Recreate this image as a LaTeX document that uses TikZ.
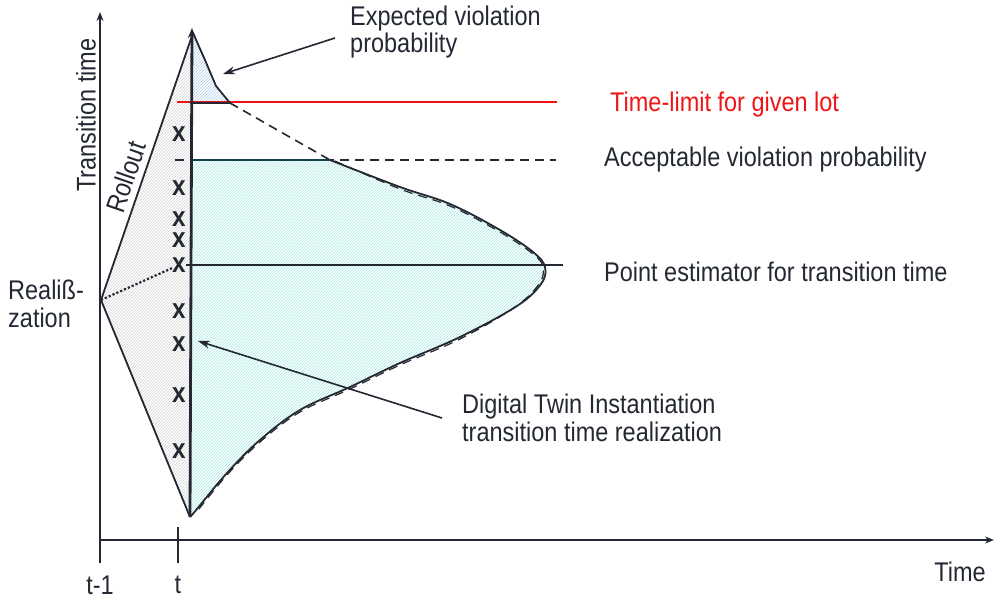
\documentclass[tikz,border=0pt]{standalone}
\usepackage{fontspec}
\setmainfont{Liberation Sans}
\newfontfamily\narrowsans[FakeStretch=0.87]{Liberation Sans}
\usetikzlibrary{arrows.meta,patterns}
\definecolor{ink}{RGB}{35,40,50}
\definecolor{hcyan}{RGB}{160,232,225}
\definecolor{hblue}{RGB}{175,205,235}
\definecolor{hgray}{RGB}{210,210,210}
\definecolor{limitred}{RGB}{240,20,20}
\begin{document}
\begin{tikzpicture}[x=1pt,y=-1pt,
  lbl/.style={font=\narrowsans\fontsize{27}{27.5}\selectfont, text=ink, inner sep=0pt},
  axisline/.style={draw=ink, line width=1.6pt},
  ptr/.style={draw=ink, line width=1.6pt, -{Stealth[length=12pt,width=8pt]}},
  tick/.style={draw=ink, line width=1.6pt},
  xmark/.style={font=\narrowsans\bfseries\fontsize{28}{28}\selectfont, text=ink, inner sep=0pt},
  curve/.style={draw=ink, line width=1.8pt},
  dashcurve/.style={draw=ink, line width=1.6pt, dash pattern=on 9pt off 6pt}]
\useasboundingbox (0,0) rectangle (994,601);
% key coordinates
\coordinate (R) at (101,300);
\coordinate (apex) at (193,33);
\coordinate (bot) at (190,517);
\coordinate (tailend) at (230,103);
\coordinate (accL) at (330,160);
% hatched areas
\fill[pattern=north east lines, pattern color=hgray] (R) -- (apex) -- (bot) -- cycle;
\fill[pattern=north east lines, pattern color=hblue] (apex) -- (205,60) -- (216,86) -- (tailend) -- (190,103) -- cycle;
\fill[pattern=north east lines, pattern color=hcyan] (190,160) --
  plot[smooth, tension=0.6] coordinates {(330,160) (400,187) (450,204) (500,230) (533,252) (545,267) (541,284) (517,306) (460,337) (400,363) (350,387) (300,410) (260,440) (227,473) (197,509) (190,517)} -- cycle;
% axes
\coordinate (O) at (100,540);
\coordinate (ytop) at (100,12);
\coordinate (xend) at (994,540);
\draw[axisline, -{Stealth[length=9pt,width=7pt]}] (O) -- (ytop);
\draw[axisline, -{Stealth[length=9pt,width=7pt]}] (O) -- (xend);
\coordinate (t1a) at (100,527); \coordinate (t1b) at (100,563);
\coordinate (ta) at (178,527); \coordinate (tb) at (178,563);
\draw[tick] (t1a) -- (t1b);
\draw[tick] (ta) -- (tb);
% rollout lines
\draw[draw=ink, line width=1.8pt] (R) -- (apex);
\draw[draw=ink, line width=1.8pt] (R) -- (bot);
% horizontal reference lines
\coordinate (redL) at (177,102); \coordinate (redR) at (557,102);
\draw[draw=limitred, line width=1.8pt] (redL) -- (redR);
\coordinate (dashL) at (175,160); \coordinate (dashR) at (556,160);
\draw[dashcurve] (dashL) -- (dashR);
% tail region edges
\draw[curve] (apex) -- (205,60) -- (216,86) -- (tailend) -- (190,103);
\draw[dashcurve] (tailend) -- (accL);
\draw[draw=ink!70!teal, line width=1.8pt] (190,160) -- (accL);
% distribution curve
\draw[curve] plot[smooth, tension=0.6] coordinates {(330,160) (400,187) (450,204) (500,230) (533,252) (545,267) (541,284) (517,306) (460,337) (400,363) (350,387) (300,410) (260,440) (227,473) (197,509) (190,517)};
\draw[dashcurve, line width=1.2pt] plot[smooth, tension=0.6] coordinates {(335,161) (400,189) (450,206) (500,232) (533,254) (543,267) (539,284) (515,307) (460,339) (400,365) (350,389) (300,412) (260,442) (227,475) (199,509)};
% vertical line at t
\draw[draw=ink, line width=2.8pt, -{Stealth[length=10pt,width=8pt]}] (bot) -- (192,28);
% x marks
\foreach \yy/\nm in {134/x1,188/x2,219/x3,240/x4,265/x5,311/x6,344/x7,395/x8,451/x9}
  \node[xmark] (\nm) at (179,\yy) {x};
% point estimator and dotted realization link
\coordinate (pR) at (563,265);
\draw[draw=ink, line width=1.8pt] (x5) -- (pR);
\draw[draw=ink, line width=2.2pt, dotted] (R) -- (x5);
% labels
\node[lbl, rotate=90] (ylab) at (86,115) {Transition time};
\node[lbl, rotate=71] (roll) at (126,177) {Rollout};
\node[lbl, align=left, anchor=west] (real) at (8,304) {Realiß-\\zation};
\node[lbl, align=left, anchor=west] (expv) at (350,32) {Expected violation\\probability};
\node[lbl, anchor=west, text=limitred] (limit) at (610,105) {Time-limit for given lot};
\node[lbl, anchor=west] (acc) at (604,160) {Acceptable violation probability};
\node[lbl, anchor=west] (pest) at (604,272) {Point estimator for transition time};
\node[lbl, align=left, anchor=west] (dt) at (462,418) {Digital Twin Instantiation\\transition time realization};
\node[lbl] (tm1) at (100,585) {t-1};
\node[lbl] (tt) at (178,585) {t};
\node[lbl] (time) at (960,572) {Time};
% pointer arrows
\coordinate (expvtail) at (335,38);
\coordinate (expvhead) at (223,74);
\draw[ptr] (expvtail) -- (expvhead);
\coordinate (dttail) at (442,418);
\coordinate (dthead) at (198,341);
\draw[ptr] (dttail) -- (dthead);
\end{tikzpicture}
\end{document}
